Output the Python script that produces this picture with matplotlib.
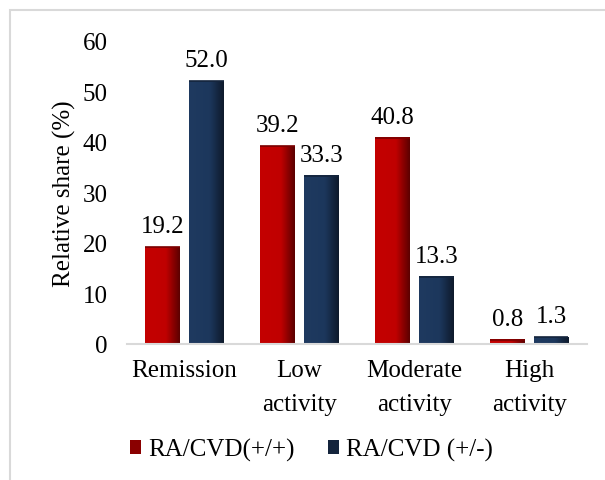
import numpy as np
import matplotlib.pyplot as plt
from matplotlib.colors import LinearSegmentedColormap
from matplotlib.patches import Patch, Rectangle

categories = ["Remission", "Low\nactivity", "Moderate\nactivity", "High\nactivity"]
ra_pp = [19.2, 39.2, 40.8, 0.8]
ra_pm = [52.0, 33.3, 13.3, 1.3]
series_names = ["RA/CVD(+/+)", "RA/CVD (+/-)"]

plt.rcParams['font.family'] = ['Liberation Serif', 'DejaVu Serif']
fs = 18

fig = plt.figure(figsize=(6.05, 4.81), dpi=100)
ax = fig.add_axes([0.21, 0.283, 0.76, 0.63])

x = np.arange(len(categories))
w = 0.3
off = 0.19

red_cmap = LinearSegmentedColormap.from_list("r", [(0, "#c40000"), (0.6, "#c00000"), (1, "#5c0000")])
blue_cmap = LinearSegmentedColormap.from_list("b", [(0, "#1f3a60"), (0.6, "#1c375c"), (1, "#0e1a2c")])
grad = np.linspace(0, 1, 64).reshape(1, -1)

for vals, dx, cmap, edge in [(ra_pp, -off, red_cmap, "#7a0000"), (ra_pm, off, blue_cmap, "#14243c")]:
    bars = ax.bar(x + dx, vals, w, color="none", edgecolor="none")
    for b, v in zip(bars, vals):
        x0, x1 = b.get_x(), b.get_x() + b.get_width()
        ax.imshow(grad, cmap=cmap, aspect="auto", extent=(x0, x1, 0, b.get_height()),
                  interpolation="bilinear", zorder=2)
        ax.plot([x0, x1], [v, v], color=edge, lw=1.2, zorder=3, solid_capstyle="butt")
        ax.text(b.get_x() + b.get_width() / 2, v + 2.0, f"{v:.1f}", ha="center", va="bottom",
                fontsize=fs)

ax.set_xlim(-0.5, len(categories) - 0.5)
ax.set_ylim(0, 60)
ax.set_yticks(range(0, 61, 10))
ax.set_xticks(x)
ax.set_xticklabels(categories, fontsize=fs, linespacing=1.7)
ax.tick_params(axis="y", labelsize=fs, length=0, pad=14)
ax.tick_params(axis="x", length=0, pad=11)
for s in ["top", "right", "left"]:
    ax.spines[s].set_visible(False)
ax.spines["bottom"].set_color("#d9d9d9")
ax.spines["bottom"].set_linewidth(1.5)
ax.set_ylabel("Relative share (%)", fontsize=fs, labelpad=5)

handles = [Patch(facecolor="#8a0000", edgecolor="none"), Patch(facecolor="#14243c", edgecolor="none")]
fig.legend(handles, series_names, loc="center", bbox_to_anchor=(0.515, 0.063), ncol=2,
           frameon=False, fontsize=fs, handlelength=0.45, handleheight=0.45,
           handletextpad=0.3, columnspacing=1.3)

fig.patches.append(Rectangle((10 / 605, -0.1), 1.2, 1 - 11 / 481 + 0.1, transform=fig.transFigure,
                             fill=False, edgecolor="#d9d9d9", lw=1.5))

fig.savefig("out.png", dpi=100)
